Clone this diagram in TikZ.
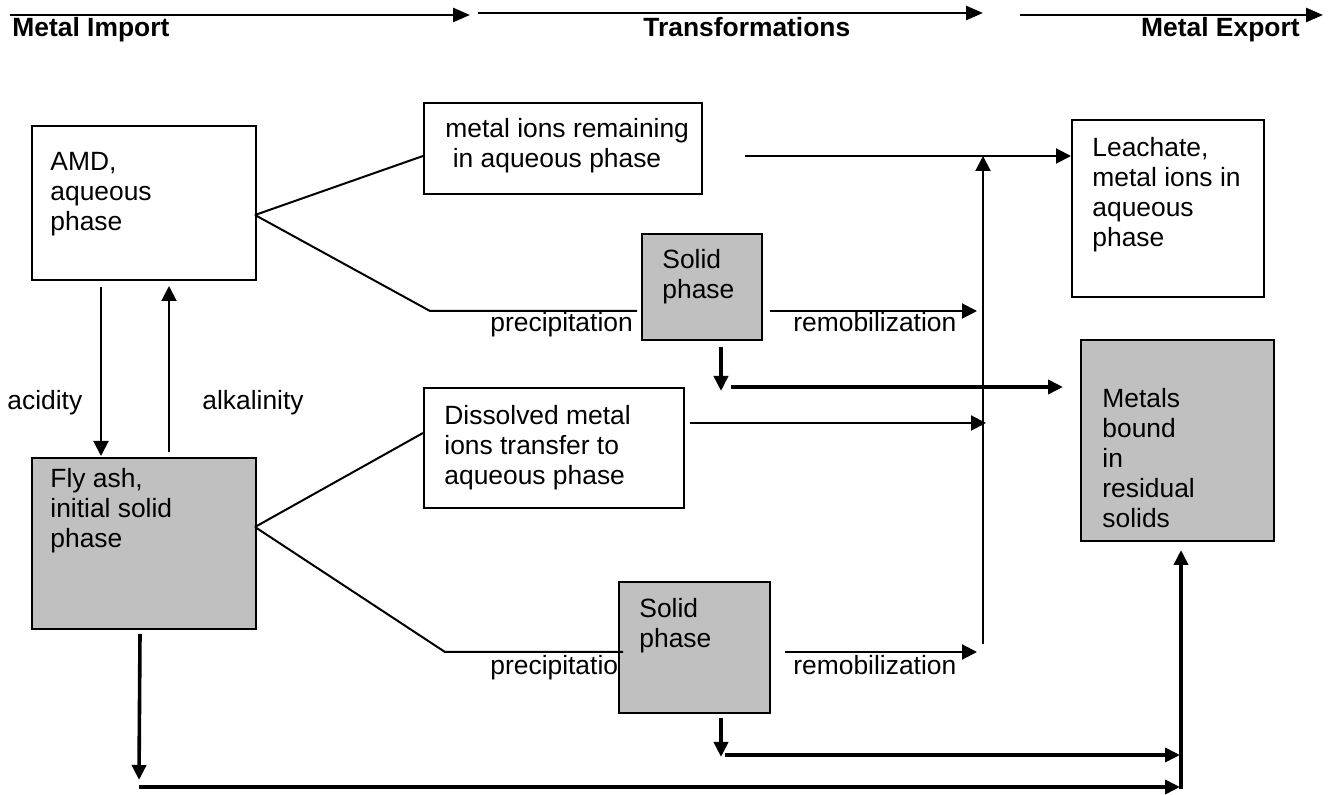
\documentclass[tikz,border=0pt]{standalone}
\usepackage{fontspec}
\setmainfont{Liberation Sans}
\usetikzlibrary{positioning, arrows.meta}
\definecolor{boxgray}{RGB}{192,192,192}

\tikzset{
    box/.style={draw, line width=1pt, anchor=north west, inner sep=0pt},
    solidbox/.style={box, fill=boxgray},
    txt/.style={anchor=north west, inner sep=0pt, align=left, font=\fontsize{13.2}{15}\selectfont},
    lbl/.style={anchor=base west, inner sep=0pt, font=\fontsize{13.2}{15}\selectfont},
    head/.style={lbl, font=\fontsize{13.2}{15}\selectfont\bfseries},
    link/.style={line width=1pt},
    flow/.style={line width=1pt, -{Triangle[length=7.5pt, width=7.5pt]}},
    headflow/.style={line width=1.3pt, -{Triangle[length=8.5pt, width=7pt]}},
    bigflow/.style={line width=1.8pt, -{Triangle[length=7.5pt, width=7pt]}}
}

\begin{document}
\begin{tikzpicture}[x=0.5pt, y=-0.5pt]
    \useasboundingbox (0,0) rectangle (1334,795);

    % headings
    \node[head] (imp) at (12,37) {Metal Import};
    \node[head] (trans) at (643,37) {Transformations};
    \node[head, anchor=base east] (exp) at (1300,37) {Metal Export};

    \coordinate (h1) at (10,15);
    \coordinate (h2) at (470,15);
    \coordinate (h3) at (478,13);
    \coordinate (h4) at (983,13);
    \coordinate (h5) at (1020,15);
    \coordinate (h6) at (1323,15);
    \draw[headflow] (h1) -- (h2);
    \draw[headflow] (h3) -- (h4);
    \draw[headflow] (h5) -- (h6);

    % labels
    \node[lbl] (acid) at (7,410) {acidity};
    \node[lbl] (alk) at (202,410) {alkalinity};
    \node[lbl] (prec1) at (490,332) {precipitation};
    \node[lbl] (remob1) at (793,332) {remobilization};
    \node[lbl] (prec2) at (490,675) {precipitation};
    \node[lbl] (remob2) at (793,675) {remobilization};

    % boxes
    \node[box, minimum width=112pt, minimum height=77pt] (amd) at (31,125) {};
    \node[box, minimum width=139pt, minimum height=45.5pt] (ions) at (423,102) {};
    \node[box, minimum width=96pt, minimum height=88.5pt] (leach) at (1071,119) {};
    \node[solidbox, minimum width=60pt, minimum height=53pt] (solid1) at (641,233) {};
    \node[box, minimum width=130pt, minimum height=60pt] (diss) at (423,387) {};
    \node[solidbox, minimum width=96.5pt, minimum height=100.5pt] (metals) at (1080,339) {};
    \node[solidbox, minimum width=112pt, minimum height=85.5pt] (fly) at (31,457) {};
    \node[solidbox, minimum width=75.5pt, minimum height=65.5pt] (solid2) at (618,581) {};

    % box texts
    \node[txt] (amdtxt) at ([shift={(19,27)}]amd.north west) {AMD,\\aqueous\\phase};
    \node[txt] (ionstxt) at ([shift={(22,16)}]ions.north west) {metal ions remaining\\\hspace{0.28em}in aqueous phase};
    \node[txt] (leachtxt) at ([shift={(21,18)}]leach.north west) {Leachate,\\metal ions in\\aqueous\\phase};
    \node[txt] (solid1txt) at ([shift={(21,16)}]solid1.north west) {Solid\\phase};
    \node[txt] (disstxt) at ([shift={(21,18)}]diss.north west) {Dissolved metal\\ions transfer to\\aqueous phase};
    \node[txt] (metalstxt) at ([shift={(22,49)}]metals.north west) {Metals\\bound\\in\\residual\\solids};
    \node[txt] (flytxt) at ([shift={(19,11)}]fly.north west) {Fly ash,\\initial solid\\phase};
    \node[txt] (solid2txt) at ([shift={(21,17)}]solid2.north west) {Solid\\phase};

    % upper branch
    \coordinate (amdout) at (255,215);
    \coordinate (ionsin) at (423,156);
    \coordinate (bend1) at (430,311);
    \coordinate (ionsout) at (745,156);
    \coordinate (rise) at (983,644);
    \coordinate (dissout) at (690,423);
    \coordinate (drop1) at (721,347);
    \coordinate (keep1) at (731,387);
    \draw[link] (amdout) -- (ionsin);
    \draw[link] (amdout) -- (bend1) -- ([xshift=-2pt]bend1 -| solid1.west);
    \draw[flow] (ionsout) -- (ionsout -| leach.west);
    \draw[flow] ([xshift=3.5pt]bend1 -| solid1.east) -- ([xshift=-3pt]bend1 -| rise);
    \draw[flow] (rise) -- (rise |- ionsout);
    \draw[flow] (dissout) -- ([xshift=1.5pt]dissout -| rise);
    \draw[bigflow] (drop1) -- ([yshift=-2pt]drop1 |- keep1);
    \draw[bigflow] (keep1) -- ([xshift=-8.5pt]keep1 -| metals.west);

    % acidity / alkalinity
    \coordinate (acidtop) at (101,287);
    \coordinate (alkfoot) at (169,452);
    \draw[flow] (acidtop) -- ([yshift=0.5pt]acidtop |- fly.north);
    \draw[flow] (alkfoot) -- ([yshift=-2.5pt]alkfoot |- amd.south);

    % lower branch
    \coordinate (flyout) at (255,527);
    \coordinate (dissin) at (423,433);
    \coordinate (bend2) at (445,652);
    \coordinate (drop2) at (721,718);
    \coordinate (keep2) at (725,755);
    \coordinate (flydrop) at (140,634);
    \coordinate (base) at (139,787);
    \coordinate (lift) at (1181,789);
    \draw[link] (flyout) -- (dissin);
    \draw[link] (flyout) -- (bend2) -- ([xshift=2.5pt]bend2 -| solid2.west);
    \draw[flow] ([xshift=7pt]bend2 -| solid2.east) -- ([xshift=-3pt]bend2 -| rise);
    \draw[bigflow] (drop2) -- (721,757);
    \draw[bigflow] (keep2) -- ([xshift=-0.5pt]keep2 -| lift);
    \draw[bigflow] (flydrop) -- (139,780);
    \draw[bigflow] (base) -- ([xshift=-0.5pt]base -| lift);
    \draw[bigflow] (lift) -- ([yshift=-4pt]lift |- metals.south);
\end{tikzpicture}
\end{document}
